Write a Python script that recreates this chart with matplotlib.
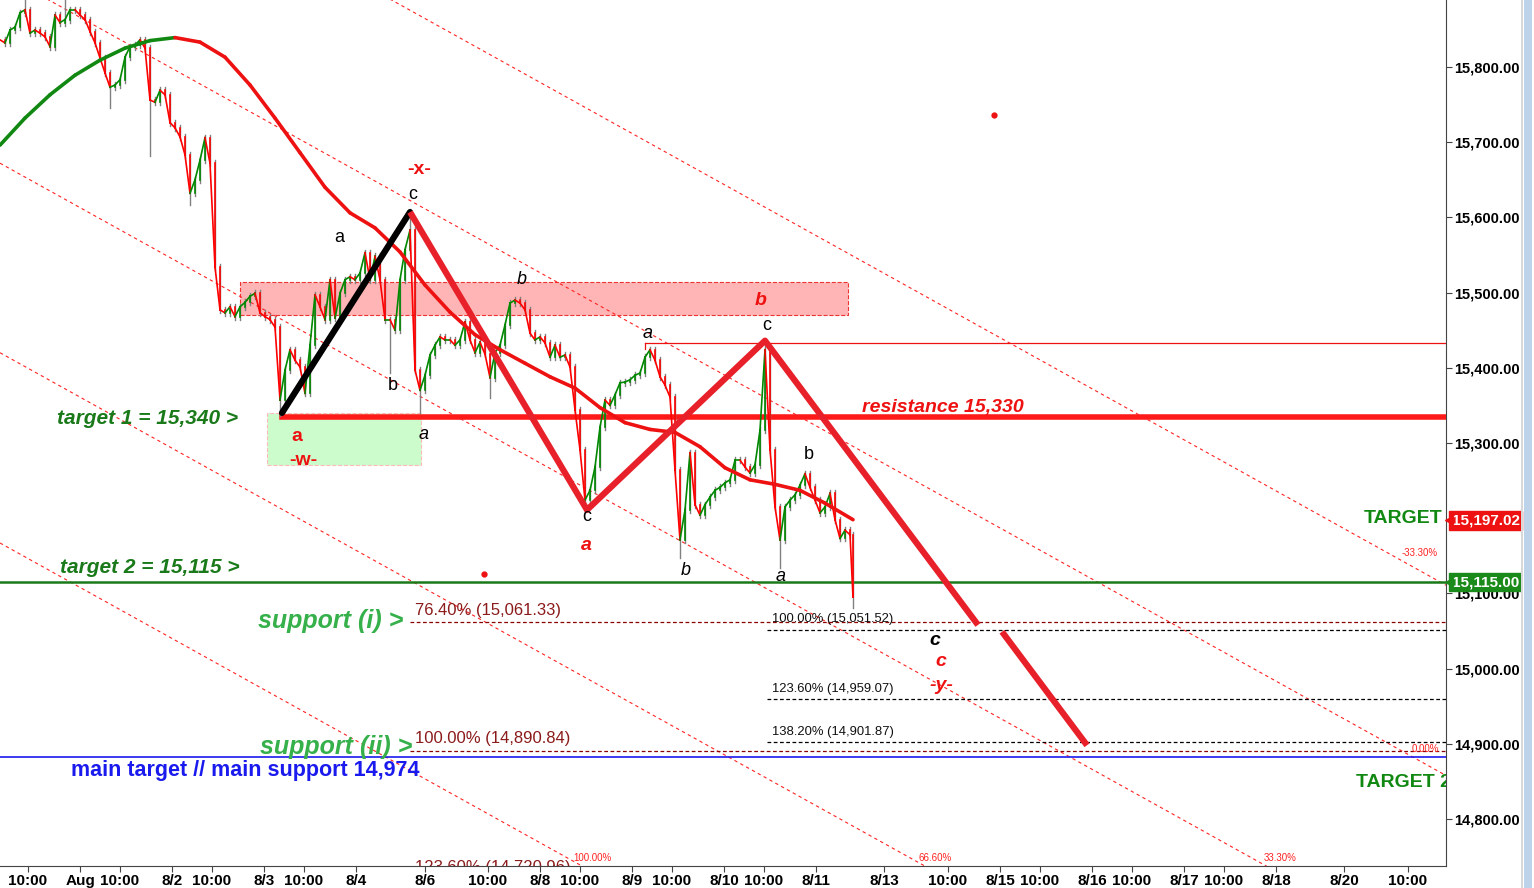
import matplotlib
matplotlib.use("Agg")
import matplotlib.pyplot as plt
from matplotlib.patches import Rectangle
import matplotlib.transforms as mtrans

plt.rcParams['font.family'] = ['Liberation Sans', 'DejaVu Sans']

# ---- data -------------------------------------------------------------
# closing prices, one every 5 time slots
closes = [
    15836, 15832, 15849, 15853, 15872, 15876, 15845, 15849, 15845, 15840,
    15827, 15869, 15859, 15863, 15876, 15876, 15869, 15863, 15847, 15832,
    15812, 15792, 15773, 15776, 15783, 15813, 15827, 15829, 15836, 15825,
    15756, 15753, 15769, 15763, 15726, 15719, 15707, 15683, 15632, 15650,
    15676, 15706, 15672, 15534, 15477, 15473, 15481, 15468, 15481, 15487,
    15495, 15499, 15473, 15468, 15464, 15454, 15357, 15397, 15424, 15410,
    15401, 15366, 15430, 15497, 15481, 15464, 15517, 15466, 15499, 15517,
    15521, 15517, 15526, 15553, 15517, 15548, 15517, 15464, 15464, 15450,
    15517, 15557, 15583, 15397, 15370, 15390, 15417, 15430, 15441, 15437,
    15437, 15430, 15437, 15461, 15437, 15420, 15434, 15418, 15387, 15420,
    15430, 15457, 15486, 15490, 15486, 15477, 15446, 15437, 15441, 15433,
    15414, 15430, 15414, 15417, 15401, 15344, 15291, 15224, 15237, 15268,
    15321, 15357, 15350, 15364, 15380, 15381, 15384, 15390, 15393, 15414,
    15424, 15410, 15388, 15377, 15361, 15264, 15171, 15211, 15287, 15218,
    15204, 15218, 15228, 15237, 15241, 15247, 15251, 15277, 15277, 15268,
    15260, 15271, 15317, 15424, 15291, 15215, 15171, 15215, 15224, 15231,
    15244, 15259, 15241, 15224, 15207, 15215, 15233, 15198, 15173, 15184,
    15178, 15095,
]
# notable wick extremes (bar index -> price)
wick_low = {22: 15750, 30: 15686, 38: 15620, 56: 15340, 78: 15397, 84: 15344,
            98: 15364, 117: 15211, 136: 15151, 156: 15138, 171: 15085}
wick_high = {82: 15607, 153: 15434, 13: 15885, 5: 15889}

# long moving average
ma_x = [0, 25, 50, 75, 100, 125, 150, 175, 200, 225, 250, 275, 300, 325,
        350, 375, 400, 425, 450, 475, 500, 525, 550, 575, 600, 625, 650,
        675, 700, 725, 750, 775, 800, 825, 853]
ma_vals = [15696, 15732, 15763, 15789, 15809, 15825, 15835, 15839, 15833,
           15813, 15776, 15732, 15686, 15640, 15606, 15586, 15554, 15510,
           15474, 15444, 15424, 15406, 15388, 15373, 15347, 15327, 15318,
           15314, 15295, 15267, 15251, 15245, 15237, 15220, 15198]

# Fibonacci channel (price at left edge of each parallel)
fan_names = ['-33.30%', '0.00%', '33.30%', '66.60%', '100.00%']
fan_start = [16178, 15925, 15672, 15420, 15167]
fan_slope = -0.738

# wave count
wave_x = [410, 587, 765, 978]
wave_p = [15607, 15211, 15436, 15058]
proj_x = [1002, 1087]
proj_p = [15049, 14898]
leg_x = [282, 410]
leg_p = [15340, 15607]

fib_red_names = ['76.40% (15,061.33)', '100.00% (14,890.84)']
fib_red_vals = [15061.33, 14890.84]
fib_blk_names = ['100.00% (15,051.52)', '123.60% (14,959.07)', '138.20% (14,901.87)']
fib_blk_vals = [15051.52, 14959.07, 14901.87]

resistance = 15335
target2 = 15115
main_support = 14882
prior_high = 15433

tick_pos = [28, 80, 120, 172, 212, 264, 304, 356, 425, 488, 540, 580, 632,
            672, 724, 764, 816, 884, 948, 1000, 1040, 1092, 1132, 1184, 1224,
            1276, 1344, 1408]
tick_lab = ['10:00', 'Aug', '10:00', '8/2', '10:00', '8/3', '10:00', '8/4',
            '8/6', '10:00', '8/8', '10:00', '8/9', '10:00', '8/10', '10:00',
            '8/11', '8/13', '10:00', '8/15', '10:00', '8/16', '10:00', '8/17',
            '10:00', '8/18', '8/20', '10:00']
price_ticks = [14800, 14900, 15000, 15100, 15300, 15400, 15500, 15600, 15700, 15800]

# ---- figure -----------------------------------------------------------
W, H = 1534, 888
fig = plt.figure(figsize=(W / 100, H / 100), dpi=100)
ax = fig.add_axes([0, 22 / H, 1446 / W, 866 / H])
ax.set_xlim(0, 1446)
ax.set_ylim(14737.5, 15889)

for s in ['top', 'left']:
    ax.spines[s].set_visible(False)
ax.spines['right'].set_color('#444444')
ax.spines['bottom'].set_color('#444444')

ax.yaxis.tick_right()
ax.set_yticks(price_ticks)
ax.set_yticklabels([f'{v:,.2f}' for v in price_ticks], fontsize=10.5,
                   fontweight='bold')
ax.set_xticks(tick_pos)
ax.set_xticklabels(tick_lab, fontsize=11, fontweight='bold')
ax.tick_params(axis='both', length=4, width=0.8, color='#444444', pad=2)

# boxes
ax.add_patch(Rectangle((240, 15470), 608, 44, facecolor='#ffb5b5',
                       edgecolor='#ee3333', linestyle='--', linewidth=0.8,
                       zorder=1))
ax.add_patch(Rectangle((267, 15271), 154, 69, facecolor='#ccfccc',
                       edgecolor='#ffbbbb', linestyle='--', linewidth=0.8,
                       zorder=1))

# channel
for name, p0 in zip(fan_names, fan_start):
    ax.plot([0, 1446], [p0, p0 + fan_slope * 1446], color='#ff2222',
            linestyle=(0, (3, 3)), linewidth=0.8, zorder=2)

# horizontal levels
ax.plot([282, 1446], [resistance, resistance], color='#ff1a1a', linewidth=4,
        zorder=4)
ax.axhline(target2, color='#1a7a1a', linewidth=1.8, zorder=3)
ax.axhline(main_support, color='#1a1aee', linewidth=1.2, zorder=3)
ax.plot([645, 1446], [prior_high, prior_high], color='#ee1111', linewidth=0.9,
        zorder=3)
ax.plot([645, 645], [prior_high, prior_high - 8], color='#ee1111',
        linewidth=0.9, zorder=3)
for name, v in zip(fib_red_names, fib_red_vals):
    ax.plot([410, 1446], [v, v], color='#8b0000', linestyle=(0, (3, 2)),
            linewidth=0.9, zorder=3)
    ax.text(415, v + 6, name, color='#8b1a1a', fontsize=12, va='bottom',
            ha='left', zorder=6)
for name, v in zip(fib_blk_names, fib_blk_vals):
    ax.plot([767, 1446], [v, v], color='black', linestyle=(0, (3, 2)),
            linewidth=0.9, zorder=3)
    ax.text(772, v + 6, name, color='#111111', fontsize=9.4, va='bottom',
            ha='left', zorder=6)
ax.text(415, 14735, '123.60% (14,720.96)', color='#8b1a1a', fontsize=12,
        va='center', ha='left', zorder=6, clip_on=True)

# price bars: gray wick, coloured move from previous close
bar_x = [5 * i for i in range(len(closes) - 1)] + [853]
for i in range(1, len(closes)):
    lo = min(closes[i - 1], closes[i])
    hi = max(closes[i - 1], closes[i])
    lo = min(lo, wick_low.get(i, lo)) - 4
    hi = max(hi, wick_high.get(i, hi)) + 4
    ax.plot([bar_x[i], bar_x[i]], [lo, hi], color='#808080', linewidth=1.0,
            zorder=5)
for i in range(1, len(closes)):
    up = closes[i] >= closes[i - 1]
    col = '#008800' if up else '#ff0000'
    ax.plot([bar_x[i - 1], bar_x[i]], [closes[i - 1], closes[i]], color=col,
            linewidth=1.2, zorder=6)
    ax.plot([bar_x[i], bar_x[i]], [closes[i - 1], closes[i]], color=col,
            linewidth=1.2, zorder=6)

# moving average, green while rising and red while falling
for i in range(1, len(ma_x)):
    col = '#118811' if ma_vals[i] >= ma_vals[i - 1] else '#ee1111'
    ax.plot(ma_x[i - 1:i + 1], ma_vals[i - 1:i + 1], color=col, linewidth=2.6,
            solid_capstyle='round', zorder=7)

# wave lines
ax.plot(leg_x, leg_p, color='black', linewidth=4.5, solid_capstyle='round',
        zorder=8)
ax.plot(wave_x, wave_p, color='#e8202a', linewidth=4.5, solid_capstyle='butt',
        zorder=8)
ax.plot(proj_x, proj_p, color='#e8202a', linewidth=4.5, solid_capstyle='butt',
        zorder=8)

# red dots
ax.plot([994, 484], [15736, 15126], 'o', color='#ee1111', markersize=3.5,
        zorder=8)

# wave labels
lab = dict(ha='center', va='center', zorder=9)
for x, p, t in [(413, 15630, 'c'), (339, 15573, 'a'), (393, 15376, 'b'),
                (587, 15202, 'c'), (767, 15456, 'c'), (809, 15285, 'b')]:
    ax.text(x, p, t, color='black', fontsize=13, **lab)
for x, p, t in [(424, 15311, 'a'), (522, 15518, 'b'), (648, 15446, 'a'),
                (686, 15130, 'b'), (781, 15122, 'a')]:
    ax.text(x, p, t, color='black', fontsize=13, style='italic', **lab)
ax.text(935, 15038, 'c', color='black', fontsize=14, style='italic',
        fontweight='bold', **lab)
for x, p, t in [(419, 15663, '-x-'), (297, 15309, 'a'), (303, 15277, '-w-')]:
    ax.text(x, p, t, color='#ee1111', fontsize=14, fontweight='bold', **lab)
for x, p, t in [(761, 15490, 'b'), (586, 15164, 'a'), (941, 15009, 'c'),
                (941, 14978, '-y-')]:
    ax.text(x, p, t, color='#ee1111', fontsize=14, fontweight='bold',
            style='italic', **lab)

ax.text(862, 15347, 'resistance 15,330', color='#ee1111', fontsize=14,
        fontweight='bold', style='italic', ha='left', va='center', zorder=9)
ax.text(57, 15333, 'target 1 = 15,340 >', color='#1a7a1a', fontsize=15,
        fontweight='bold', style='italic', ha='left', va='center', zorder=9)
ax.text(60, 15135, 'target 2 = 15,115 >', color='#1a7a1a', fontsize=15,
        fontweight='bold', style='italic', ha='left', va='center', zorder=9)
ax.text(258, 15063, 'support (i) >', color='#35b04a', fontsize=18,
        fontweight='bold', style='italic', ha='left', va='center', zorder=9)
ax.text(260, 14896, 'support (ii) >', color='#35b04a', fontsize=18,
        fontweight='bold', style='italic', ha='left', va='center', zorder=9)
ax.text(71, 14864, 'main target // main support 14,974', color='#1a1aee',
        fontsize=15.5, fontweight='bold', ha='left', va='center', zorder=9)
ax.text(1442, 15200, 'TARGET', color='#118811', fontsize=14,
        fontweight='bold', ha='right', va='center', zorder=9)
ax.text(1356, 14848, 'TARGET 2', color='#118811', fontsize=14,
        fontweight='bold', ha='left', va='center', zorder=9, clip_on=True)

# channel percentages
for x, p, t in [(1420, 15154, '-33.30%'), (1425, 14893, '0.00%'),
                (1280, 14748, '33.30%'), (935, 14748, '66.60%'),
                (592, 14748, '100.00%')]:
    ax.text(x, p, t, color='#ff2222', fontsize=7, ha='center', va='center',
            zorder=9)

# price tags on the axis
tr = mtrans.blended_transform_factory(ax.transAxes, ax.transData)
for v, txt, col in [(15197.02, '15,197.02', '#ee1111'),
                    (15115, '15,115.00', '#1a8a1a')]:
    ax.text(1.004, v, txt, transform=tr, color='white', fontsize=11,
            fontweight='bold', ha='left', va='center', clip_on=False,
            zorder=10, bbox=dict(boxstyle='square,pad=0.15', facecolor=col,
                                 edgecolor=col))
    ax.plot([1.002], [v], marker='<', color=col, markersize=6,
            transform=tr, clip_on=False, zorder=10)

# scrollbar strip on the right
fig.patches.append(Rectangle((1524 / W, 0), 8 / W, 1, facecolor='#bcd3ea',
                             edgecolor='none', transform=fig.transFigure))
fig.patches.append(Rectangle((1521 / W, 0), 1.5 / W, 1, facecolor='#d8d8d8',
                             edgecolor='none', transform=fig.transFigure))

fig.savefig('out.png', dpi=100)
